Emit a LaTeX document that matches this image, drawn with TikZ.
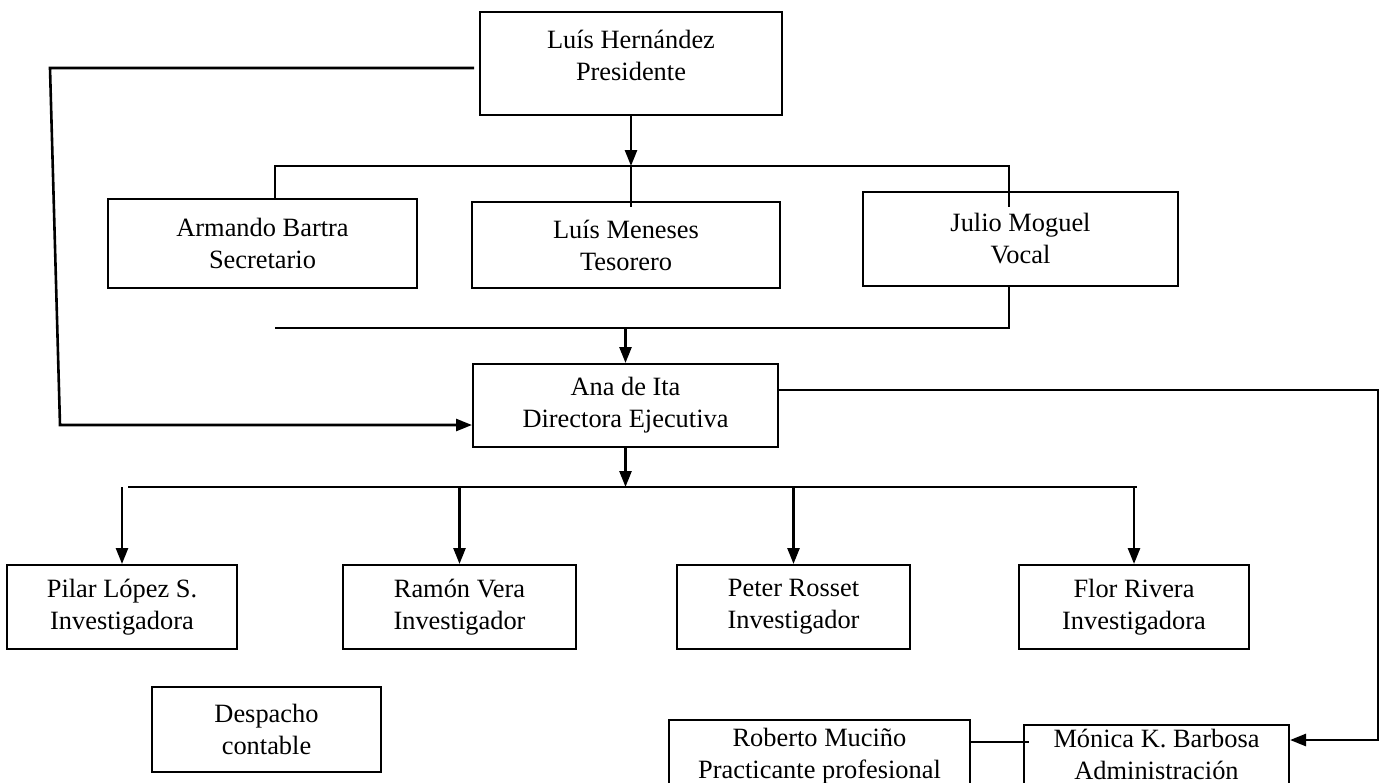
\documentclass[tikz,border=0pt]{standalone}
\usepackage{fontspec}
\setmainfont{Liberation Serif}
\usetikzlibrary{arrows.meta}

\begin{document}
\begin{tikzpicture}[x=0.5pt,y=-0.5pt,
    cargo/.style={draw, line width=1pt, align=center, inner sep=0pt,
      font=\fontsize{13.2}{16}\selectfont},
    flecha/.style={line width=1.3pt, -{Triangle[length=8pt,width=6pt]}},
    linea/.style={line width=1pt}]
  \useasboundingbox (0,0) rectangle (1379,782);

  % consejo
  \node[cargo, minimum width=151pt, minimum height=51.5pt] (pres) at (631,63.5) {Luís Hernández\\Presidente\\[-8pt]\mbox{}};
  \node[cargo, minimum width=154.5pt, minimum height=44.5pt] (sec) at (262.5,243.5) {Armando Bartra\\Secretario};
  \node[cargo, minimum width=154pt, minimum height=43pt] (tes) at (626,245) {Luís Meneses\\Tesorero};
  \node[cargo, minimum width=157.5pt, minimum height=47pt] (voc) at (1020.5,239) {Julio Moguel\\Vocal};

  % direccion
  \node[cargo, minimum width=152.5pt, minimum height=41.5pt] (dir) at (625.5,405.5) {Ana de Ita\\Directora Ejecutiva};

  % investigadores
  \node[cargo, minimum width=115pt, minimum height=42pt] (pilar) at (122,607) {Pilar López S.\\Investigadora};
  \node[cargo, minimum width=116.5pt, minimum height=42pt] (ramon) at (459.5,607) {Ramón Vera\\Investigador};
  \node[cargo, minimum width=116.5pt, minimum height=42pt] (peter) at (793.5,607) {Peter Rosset\\Investigador};
  \node[cargo, minimum width=115pt, minimum height=42pt] (flor) at (1134,607) {Flor Rivera\\Investigadora};

  % apoyo
  \node[cargo, minimum width=114.5pt, minimum height=42.5pt] (desp) at (266.5,729.5) {Despacho\\contable};
  \node[cargo, minimum width=150.5pt, minimum height=42pt] (rob) at (819.5,762) {Roberto Muciño\\Practicante profesional\\[-7pt]\mbox{}};
  \node[cargo, minimum width=132.5pt, minimum height=40pt] (mon) at (1156.5,765) {Mónica K. Barbosa\\Administración\\[-5pt]\mbox{}};

  \coordinate (b1l) at (275,166);
  \coordinate (b1r) at (1009,166);
  \coordinate (b2l) at (275,328);
  \coordinate (b2r) at (1009,328);
  \coordinate (b3l) at (128,487);
  \coordinate (b3r) at (1137,487);

  \draw[flecha] (pres.south) -- (pres.south |- b1l);
  \draw[linea] (pres.south |- b1l) -- ([yshift=-3pt]tes.north -| pres.south);
  \draw[linea] (sec.north -| b1l) -- (b1l) -- (b1r) -- ([yshift=-8pt]voc.north -| b1r);
  \draw[linea] (b2l) -- (b2r) -- (voc.south -| b2r);
  \draw[flecha] (b2l -| dir.north) -- (dir.north);

  \draw[flecha] ([xshift=-2.5pt]pres.west |- 0,68) -- (50,68) -- (60,425) -- (dir.west |- 0,425);
  \draw[flecha] (dir.east |- 0,390) -- (1378,390) -- (1378,740) -- (mon.east |- 0,740);

  \draw[flecha] (dir.south) -- (dir.south |- b3l);
  \draw[flecha, -] (b3l) -- (b3r);
  \foreach \n in {pilar,ramon,peter,flor}
    \draw[flecha] (b3l -| \n.north) -- (\n.north);

  \draw[linea] (rob.east |- 0,742) -- ([xshift=3pt]mon.west |- 0,742);
\end{tikzpicture}
\end{document}
